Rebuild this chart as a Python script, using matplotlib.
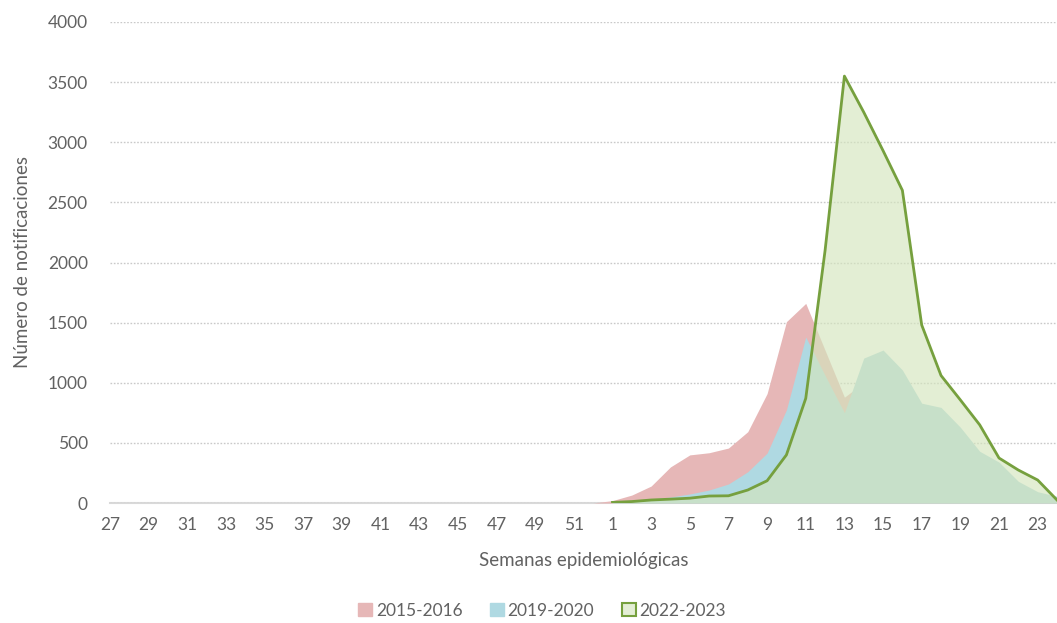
import numpy as np
import matplotlib
matplotlib.use("Agg")
import matplotlib.pyplot as plt
from matplotlib.patches import Patch

plt.rcParams['font.family'] = ['Lato', 'DejaVu Sans']

# semanas 27..52 de un año y 1..24 del siguiente
semanas = list(range(27, 53)) + list(range(1, 25))
etiquetas = [str(s) if s % 2 == 1 else '' for s in semanas]

nan = np.nan
# notificaciones por semana (nan = sin dato)
t_2015_2016 = [nan] * 25 + [0, 20, 66, 141, 300, 400, 418, 457, 593, 910, 1508, 1660,
                            1270, 880, 1000, 900, 780, 640, 560, 450, 340, 240, 140, 70, 30]
t_2019_2020 = [nan] * 26 + [5, 15, 33, 50, 75, 108, 158, 260, 415, 775, 1380,
                            1060, 750, 1205, 1272, 1106, 830, 795, 630, 430, 340, 180, 94, 55]
t_2022_2023 = [nan] * 26 + [5, 12, 25, 32, 40, 58, 60, 108, 185, 400, 870,
                            2100, 3550, 3250, 2930, 2600, 1480, 1060, 857, 650, 374, 274, 191, 25]

x = np.arange(len(semanas))
rosa = '#e6b7b7'
celeste = '#afd9e2'
verde_linea = '#76a03e'
verde_relleno = '#d4e5bd'
gris = '#626262'

fig = plt.figure(figsize=(10.57, 6.23), dpi=100)
ax = fig.add_axes([110 / 1057, 120 / 623, 947 / 1057, 481 / 623])

a = np.array(t_2015_2016, dtype=float)
b = np.array(t_2019_2020, dtype=float)
c = np.array(t_2022_2023, dtype=float)

ax.fill_between(x, 0, a, where=~np.isnan(a), color=rosa, lw=0, zorder=2)
ax.fill_between(x, 0, b, where=~np.isnan(b), color=celeste, lw=0, zorder=3)
ax.fill_between(x, 0, c, where=~np.isnan(c), color=verde_relleno, alpha=0.65, lw=0, zorder=4)
ax.plot(x, c, color=verde_linea, lw=2, zorder=5)

ax.set_xlim(0, 49)
ax.set_ylim(0, 4000)
ax.set_yticks(np.arange(0, 4001, 500))
ax.set_xticks(x)
ax.set_xticklabels(etiquetas)
ax.tick_params(axis='both', length=0, colors=gris, labelsize=12.5)
ax.tick_params(axis='x', pad=10)
ax.tick_params(axis='y', pad=16)

ax.grid(axis='y', linestyle=(0, (1.2, 1.2)), color='#c9c9c9', lw=1, zorder=1)
for lado in ['top', 'right', 'left']:
    ax.spines[lado].set_visible(False)
ax.spines['bottom'].set_color('#d9d9d9')
ax.spines['bottom'].set_linewidth(1.5)
ax.spines['bottom'].set_zorder(1)

ax.set_xlabel('Semanas epidemiológicas', fontsize=13.5, color=gris, labelpad=14)
ax.set_ylabel('Número de notificaciones', fontsize=13.5, color=gris, labelpad=12)

handles = [Patch(facecolor=rosa, edgecolor=rosa),
           Patch(facecolor=celeste, edgecolor=celeste),
           Patch(facecolor='#e4eed5', edgecolor=verde_linea, lw=1.5)]
fig.legend(handles, ['2015-2016', '2019-2020', '2022-2023'], loc='center',
           bbox_to_anchor=(0.513, 0.02), ncol=3, frameon=False, fontsize=12.5,
           handlelength=0.8, handleheight=0.8, handletextpad=0.2, columnspacing=1.6,
           labelcolor=gris)

fig.savefig('out.png', dpi=100)
